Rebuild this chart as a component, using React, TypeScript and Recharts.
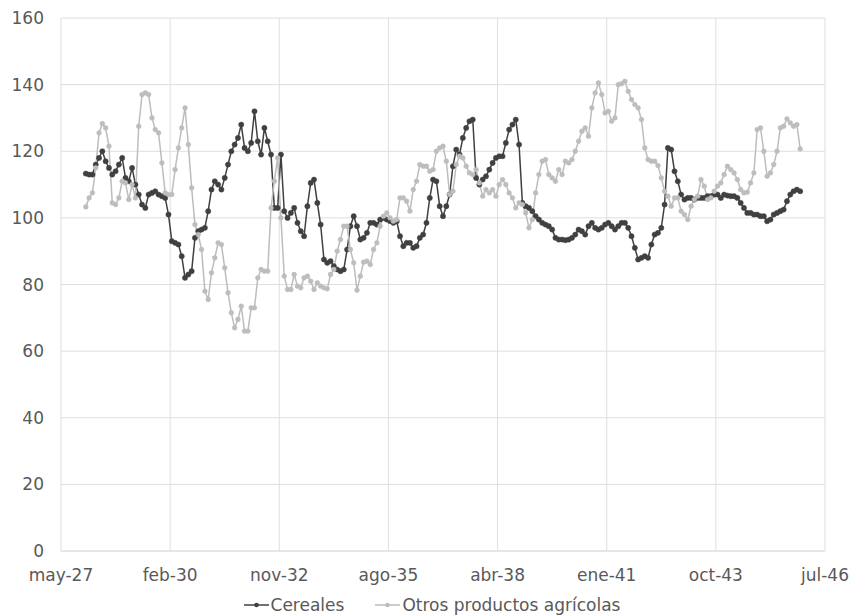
import React from "react";
import {
  LineChart,
  Line,
  XAxis,
  YAxis,
  CartesianGrid,
  Legend,
} from "recharts";

// Months are counted from may-27 (0). Series run monthly from dic-27 to dic-45.
const FIRST_MONTH = 7;

const TICK_MONTHS = [0, 33, 66, 99, 132, 165, 198, 231];
const TICK_LABELS = [
  "may-27",
  "feb-30",
  "nov-32",
  "ago-35",
  "abr-38",
  "ene-41",
  "oct-43",
  "jul-46",
];
const Y_TICKS = [0, 20, 40, 60, 80, 100, 120, 140, 160];

const CEREALES = [
  113.3, 113, 113, 116, 118, 120, 117, 115, 113, 114,
  116, 118, 112, 111, 115, 110, 107, 104, 103, 107,
  107.5, 108, 107, 106.5, 106, 101, 93, 92.5, 92, 88.5,
  82, 83, 84, 94, 96, 96.5, 97, 102, 108.5, 111,
  110, 108.5, 112, 116, 120, 122, 124, 128, 121, 120,
  122.5, 132, 123, 119, 127, 123, 119, 103, 103, 119,
  102, 100, 101.5, 103, 98.5, 96, 94.5, 103.5, 110.5, 111.5,
  104.5, 98, 87.5, 86.5, 87, 85.5, 84.5, 84, 84.5, 90.5,
  97.5, 100.5, 97.5, 93.5, 94, 95.5, 98.5, 98.5, 98, 99.5,
  100, 99.5, 99, 98.5, 99, 94.5, 91.5, 92.5, 92.5, 91,
  91.5, 94, 95, 98.5, 106, 111.5, 111, 103.5, 100.5, 103.5,
  107, 115.5, 120.5, 119, 124, 127, 129, 129.5, 112, 110,
  111.5, 112.5, 114.5, 116.5, 118, 118.5, 118.5, 122.5, 126.5, 128,
  129.5, 122, 104.5, 103.5, 103, 102, 100.5, 99.5, 98.5, 98,
  97.5, 96.5, 94, 93.5, 93.5, 93.3, 93.5, 94, 95, 96.5,
  96, 95, 97.5, 98.5, 97, 96.5, 97, 98, 98.5, 97.5,
  96.5, 97.5, 98.5, 98.5, 97, 94.5, 91, 87.5, 88, 88.5,
  88, 92, 95, 95.5, 97, 104, 121, 120.5, 114, 111,
  107, 105.5, 106, 106, 105.5, 106, 106, 106, 106.5, 106.5,
  107, 107, 106, 107, 106.7, 106.5, 106.5, 106, 104.5, 103,
  101.5, 101.5, 101, 101, 100.5, 100.5, 99, 99.5, 101, 101.5,
  102, 102.5, 105, 107, 108, 108.5, 108,
];

const OTROS = [
  103.3, 106, 107.5, 115, 125.5, 128.3, 127, 121.5, 104.5, 104,
  106, 111, 110.5, 105.5, 110, 106, 127.5, 137, 137.5, 137,
  130, 126.5, 125.5, 116.5, 107.5, 107, 107, 114.5, 121, 127,
  133, 122, 109, 98, 95, 90.5, 78, 75.5, 83.5, 88,
  92.5, 92, 85, 77.5, 71.5, 67, 69.5, 73.5, 66, 66,
  73, 73, 82, 84.5, 84, 84, 103, 111, 118, 100,
  82.5, 78.5, 78.5, 83, 79.5, 79, 82, 82.5, 81, 78.5,
  80.5, 79.5, 79, 78.7, 83, 84.5, 90, 93.5, 97.5, 97.5,
  90.5, 86.5, 78.3, 82.5, 86.7, 87, 86, 90.5, 92.5, 97.5,
  100.5, 101.5, 100, 99, 99.5, 106, 106, 105, 102, 108.5,
  111, 116, 115.5, 115.5, 114, 114.5, 120, 121, 121.5, 117,
  107, 108, 116, 118.5, 118, 115.5, 113.5, 113, 114.5, 110.5,
  106.5, 108.5, 107.5, 108.5, 106.5, 110, 111.5, 110, 107.5, 106,
  103, 104.5, 104, 101.5, 97, 99.5, 107.5, 113, 117, 117.5,
  113, 112, 111, 114.5, 113, 117, 116.5, 117.5, 120, 123,
  126, 127, 124.5, 133, 137.5, 140.5, 137, 131.5, 132, 129,
  130, 140, 140.3, 141, 138, 135.5, 134, 133, 129.5, 121,
  117.5, 117, 117, 115.7, 112, 108, 106.5, 103.5, 106, 106,
  102, 101, 99.5, 103.5, 105.5, 106.5, 111.5, 109.5, 105.5, 106,
  108, 109.5, 110.5, 113, 115.5, 114.5, 113.5, 111.5, 108.5, 107.5,
  107.7, 110.5, 113.5, 126.5, 127, 120, 112.5, 113.5, 116, 120,
  127, 127.5, 129.7, 128.5, 127.5, 128, 120.7,
];

const DARK = "#404040";
const LIGHT = "#bdbdbd";
const GRID = "#dedede";
const TEXT = "#595959";
const FONT = "'DejaVu Sans', Verdana, sans-serif";

// each point sits in the middle of its month
const data = CEREALES.map((v, i) => ({
  mes: FIRST_MONTH + i + 0.5,
  cereales: v,
  otros: OTROS[i],
}));

const SERIES = [
  { key: "cereales", name: "Cereales", color: DARK, r: 2.6 },
  { key: "otros", name: "Otros productos agrícolas", color: LIGHT, r: 2.4 },
];

function LegendBox() {
  return (
    <div
      style={{
        display: "flex",
        justifyContent: "center",
        gap: 31,
        paddingLeft: 9,
        paddingTop: 7,
        height: 22,
        lineHeight: "20px",
        fontFamily: FONT,
        fontSize: 17,
        color: TEXT,
      }}
    >
      {SERIES.map((s) => (
        <div key={s.key} style={{ display: "flex", alignItems: "center" }}>
          <svg width={27} height={10}>
            <line x1={0} y1={5} x2={25} y2={5} stroke={s.color} strokeWidth={1.5} />
            <circle cx={12.5} cy={5} r={2.3} fill={s.color} />
          </svg>
          <span>{s.name}</span>
        </div>
      ))}
    </div>
  );
}

export default function App() {
  return (
    <div
      style={{
        position: "absolute",
        left: 0,
        top: 0,
        width: 855,
        height: 616,
        background: "#fff",
      }}
    >
      <LineChart
        width={855}
        height={616}
        data={data}
        margin={{ top: 18, right: 30, left: 0, bottom: 0 }}
      >
        <CartesianGrid stroke={GRID} strokeWidth={1} />
        <XAxis
          dataKey="mes"
          type="number"
          domain={[0, 231]}
          ticks={TICK_MONTHS}
          tickFormatter={(m: number) => TICK_LABELS[TICK_MONTHS.indexOf(m)]}
          interval={0}
          height={36}
          axisLine={{ stroke: GRID }}
          tickLine={false}
          tickSize={6}
          tickMargin={12}
          tick={{ fill: TEXT, fontSize: 17, fontFamily: FONT }}
        />
        <YAxis
          domain={[0, 160]}
          ticks={Y_TICKS}
          interval={0}
          width={61}
          axisLine={false}
          tickLine={false}
          tickSize={6}
          tickMargin={11}
          tick={{ fill: TEXT, fontSize: 17, fontFamily: FONT }}
        />
        <Legend
          verticalAlign="bottom"
          height={29}
          wrapperStyle={{ left: 0, width: 855 }}
          content={() => <LegendBox />}
        />
        {SERIES.map((s) => (
          <Line
            key={s.key}
            type="linear"
            dataKey={s.key}
            name={s.name}
            stroke={s.color}
            strokeWidth={1.5}
            dot={{ r: s.r, fill: s.color, stroke: s.color, strokeWidth: 0.5 }}
            activeDot={false}
            isAnimationActive={false}
          />
        ))}
      </LineChart>
    </div>
  );
}
